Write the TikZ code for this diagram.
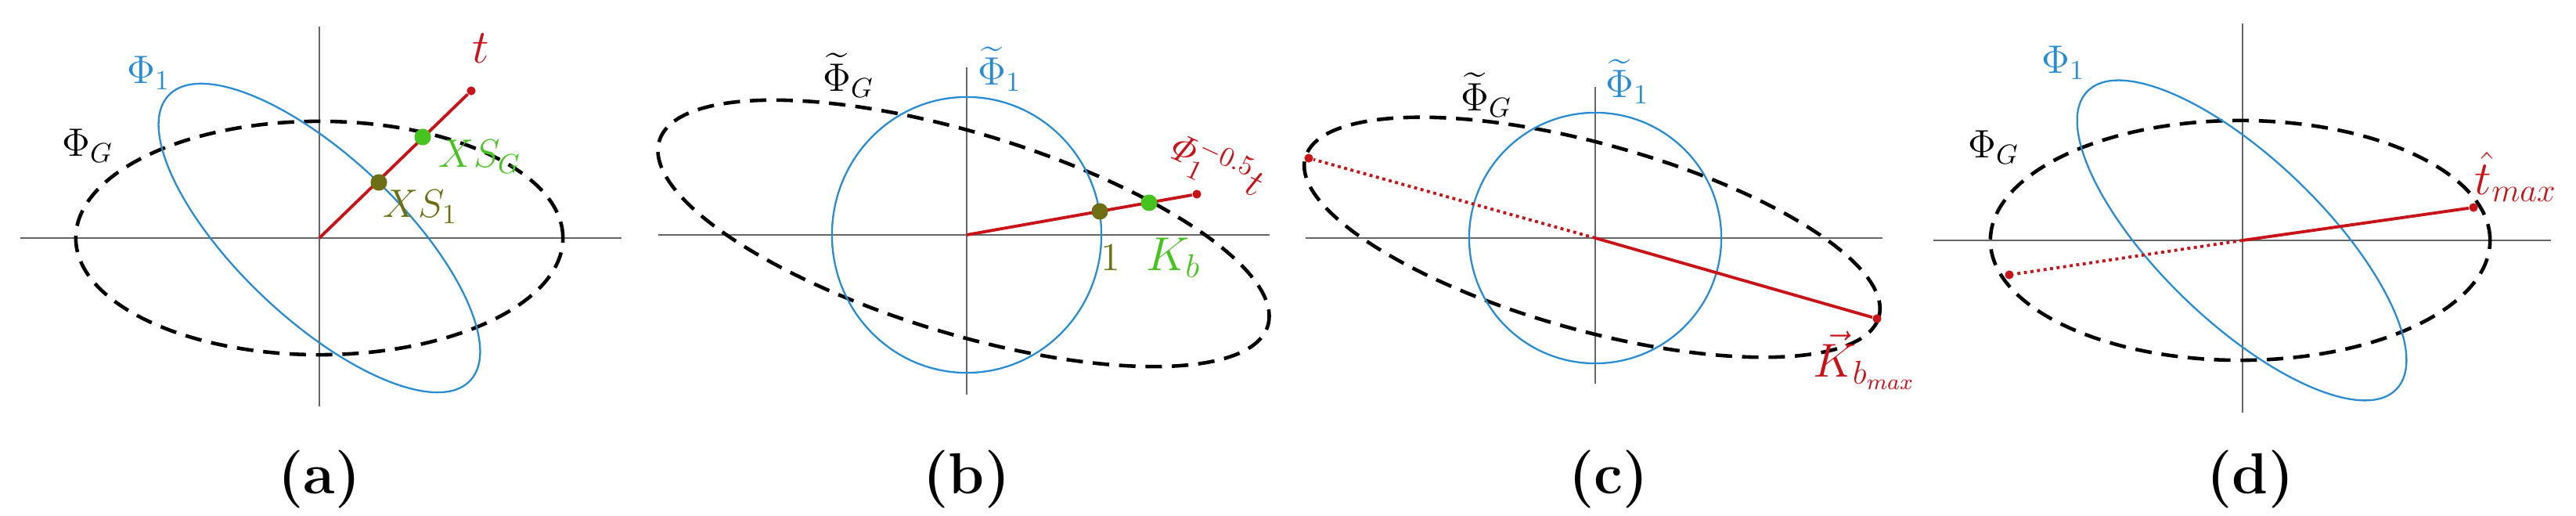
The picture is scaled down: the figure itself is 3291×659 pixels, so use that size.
\documentclass[tikz,border=0pt]{standalone}
\usepackage{amsmath}
\usepackage{amssymb}
\usepackage{tikz}

\definecolor{phiblue}{RGB}{40,140,210}
\definecolor{tred}{RGB}{200,20,25}
\definecolor{xsgreen}{RGB}{70,195,30}
\definecolor{xsolive}{RGB}{110,110,20}

\tikzset{
  axis/.style={gray!80!black,line width=0.4pt},
  phiG/.style={black,line width=1.3pt,dash pattern=on 6pt off 3.6pt},
  phione/.style={phiblue,line width=0.65pt},
  tline/.style={tred,line width=1.1pt},
  tdots/.style={tred,line width=1.1pt,dash pattern=on 1.1pt off 1.3pt},
  dot/.style={circle,fill,inner sep=0pt,minimum size=#1},
  lbl/.style={font=\fontsize{14}{16}\selectfont},
  big/.style={font=\fontsize{17}{19}\selectfont},
  caption/.style={font=\fontsize{21}{24}\selectfont\bfseries}
}

\begin{document}
\begin{tikzpicture}[x=0.01cm,y=-0.01cm]
\useasboundingbox (0,0) rectangle (3291,659);

% (a)
\coordinate (oa) at (408,304);
\draw[axis] (26,304) -- (794,304);
\draw[axis] (408,34) -- (408,519);
\draw[phiG] (oa) ellipse [x radius=3.11cm, y radius=1.49cm];
\draw[phione, rotate around={-43.4:(oa)}] (oa) ellipse [x radius=2.65cm, y radius=1.035cm];
\node[dot=3.2pt,tred] (ta) at (602,116) {};
\draw[tline] (oa) -- (ta);
\node[dot=6pt,xsgreen] (xsg) at (540,175) {};
\node[dot=6pt,xsolive] (xs1) at (484,233) {};
\node[big,tred] (tlabel) at (614,62) {$t$};
\node[lbl,xsgreen] (xsglabel) at (613,200) {$XS_G$};
\node[lbl,xsolive] (xs1label) at (537,264) {$XS_1$};
\node[lbl,phiblue] (phi1a) at (190,93) {$\Phi_1$};
\node[lbl] (phiGa) at (112,186) {$\Phi_G$};
\node[caption] (capa) at (408,612) {(a)};

% (b)
\coordinate (ob) at (1235,300);
\draw[axis] (841,300) -- (1622,300);
\draw[axis] (1235,86) -- (1235,504);
\draw[phiG, rotate around={-16.9:(1231,298)}] (1231,298) ellipse [x radius=4.06cm, y radius=1.28cm];
\draw[phione] (ob) ellipse [x radius=1.72cm, y radius=1.76cm];
\node[dot=3.2pt,tred] (tb) at (1529,248) {};
\draw[tline] (ob) -- (tb);
\node[dot=6pt,xsolive] (one) at (1405,270) {};
\node[dot=6pt,xsgreen] (kb) at (1468,259) {};
\node[lbl,xsolive] (onelabel) at (1419,329) {$1$};
\node[big,xsgreen] (kblabel) at (1499,329) {$K_b$};
\node[lbl,tred,rotate=-25] (scaledt) at (1552,212) {$\mathit{\Phi}_1^{-0.5}t$};
\node[lbl,phiblue] (phi1b) at (1277,88) {$\widetilde{\Phi}_1$};
\node[lbl] (phiGb) at (1084,96) {$\widetilde{\Phi}_G$};
\node[caption] (capb) at (1235,612) {(b)};

% (c)
\coordinate (oc) at (2038,304);
\draw[axis] (1668,304) -- (2405,304);
\draw[axis] (2038,111) -- (2038,490);
\draw[phiG, rotate around={-15.5:(2034,303)}] (2034,303) ellipse [x radius=3.8cm, y radius=1.19cm];
\draw[phione] (oc) ellipse [x radius=1.61cm, y radius=1.60cm];
\node[dot=3.2pt,tred] (kmax) at (2398,407) {};
\node[dot=3.2pt,tred] (kmin) at (1672,202) {};
\draw[tline] (oc) -- (kmax);
\draw[tdots] (oc) -- (kmin);
\node[big,tred] (kmaxlabel) at (2382,460) {$\vec{K}_{b_{max}}$};
\node[lbl,phiblue] (phi1c) at (2079,104) {$\widetilde{\Phi}_1$};
\node[lbl] (phiGc) at (1899,121) {$\widetilde{\Phi}_G$};
\node[caption] (capc) at (2055,612) {(c)};

% (d)
\coordinate (od) at (2865,307);
\draw[axis] (2470,307) -- (3259,307);
\draw[axis] (2865,30) -- (2865,527);
\draw[phiG] (2862,307) ellipse [x radius=3.19cm, y radius=1.53cm];
\draw[phione, rotate around={-43.9:(2864,307)}] (2864,307) ellipse [x radius=2.74cm, y radius=1.04cm];
\node[dot=3.2pt,tred] (tmax) at (3160,265) {};
\node[dot=3.2pt,tred] (tmin) at (2567,351) {};
\draw[tline] (od) -- (tmax);
\draw[tdots] (od) -- (tmin);
\node[big,tred] (tmaxlabel) at (3214,226) {$\hat{t}_{max}$};
\node[lbl,phiblue] (phi1d) at (2636,80) {$\Phi_1$};
\node[lbl] (phiGd) at (2547,188) {$\Phi_G$};
\node[caption] (capd) at (2875,612) {(d)};
\end{tikzpicture}
\end{document}
